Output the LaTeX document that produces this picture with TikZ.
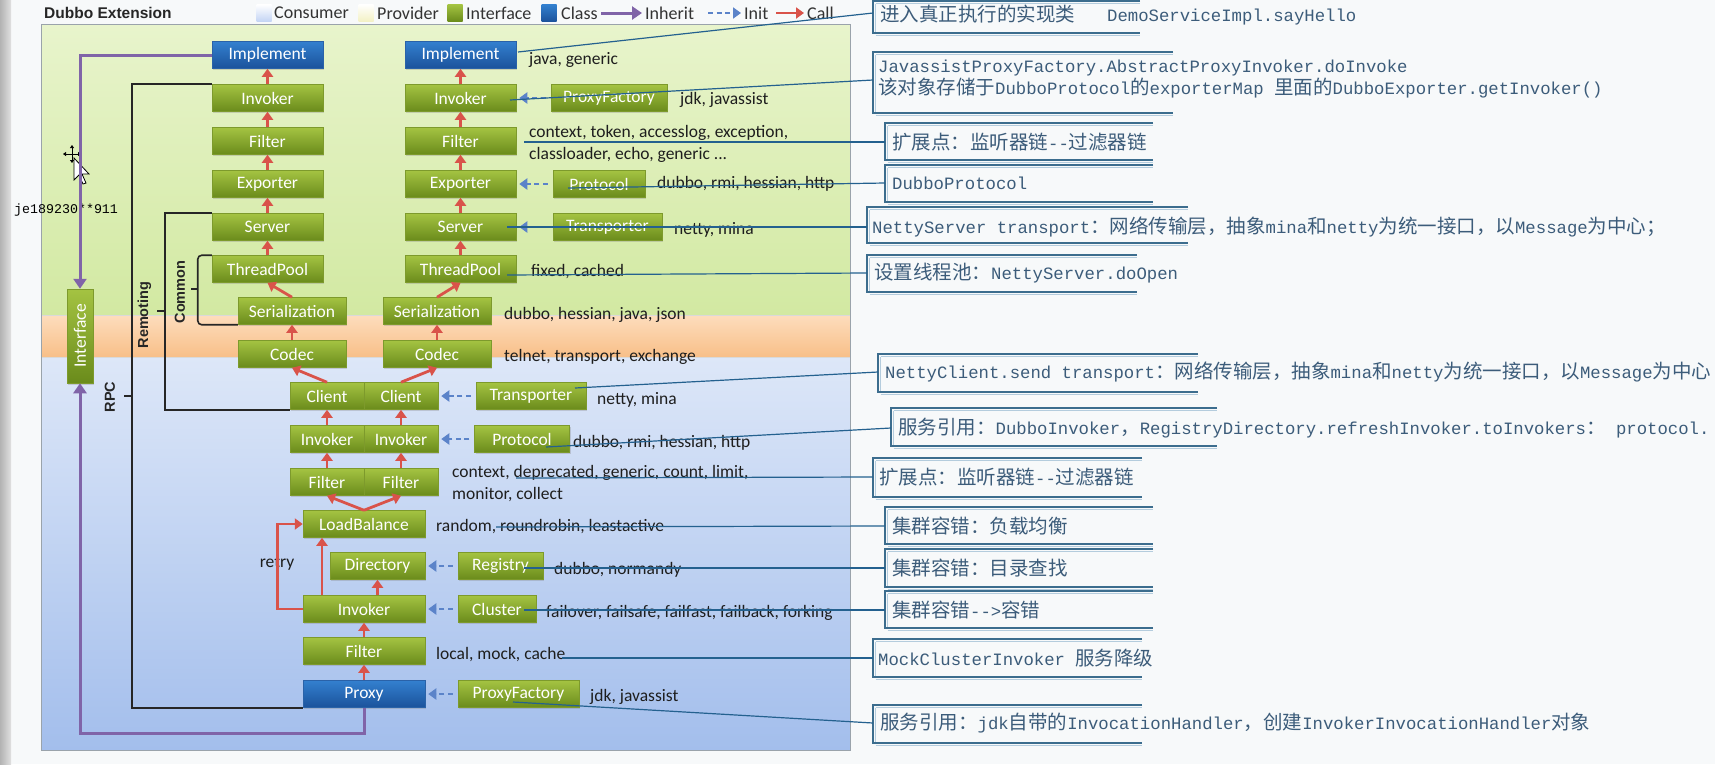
\documentclass[tikz,border=0pt]{standalone}
\usepackage{fontspec}
\setmainfont{Carlito}
\newfontfamily\dbMono{Liberation Mono}
\newfontfamily\dbCJK{Noto Sans CJK SC}[Scale=1.127]
\newfontfamily\dbHead{Liberation Sans}
\usetikzlibrary{arrows.meta,shadows,calc}
\definecolor{bgcol}{HTML}{F7F9FA}
\definecolor{provTop}{HTML}{E8F4CC}
\definecolor{provBot}{HTML}{D2E9A2}
\definecolor{orTop}{HTML}{FDDDBD}
\definecolor{orBot}{HTML}{F8BF88}
\definecolor{conTop}{HTML}{DDE7F8}
\definecolor{conBot}{HTML}{A3BEEC}
\definecolor{panelEdge}{HTML}{9AA3AB}
\definecolor{ifTop}{HTML}{A4C342}
\definecolor{ifBot}{HTML}{6A8B1B}
\definecolor{ifEdge}{HTML}{7D9A2C}
\definecolor{clTop}{HTML}{3380CF}
\definecolor{clBot}{HTML}{1B529B}
\definecolor{clEdge}{HTML}{2A62A8}
\definecolor{callRed}{HTML}{D9534A}
\definecolor{initBlue}{HTML}{5B83C9}
\definecolor{inhPurple}{HTML}{8064A8}
\definecolor{annLine}{HTML}{24618F}
\definecolor{annEdge}{HTML}{3C6D8E}
\definecolor{annShade}{HTML}{B4CCDD}
\definecolor{annText}{HTML}{3C5C7A}
\definecolor{labelText}{HTML}{1E1E1E}
\definecolor{swConsCol}{HTML}{C3D4F4}
\definecolor{swProvCol}{HTML}{F3F1C4}
\newcommand\zh[1]{{\dbCJK #1}}
\newcommand\dbBoxFont{\fontsize{17.5}{20}\selectfont}
\newcommand\dbExtFont{\fontsize{17.5}{20}\selectfont}
\newcommand\dbLegFont{\fontsize{18}{20}\selectfont}
\newcommand\dbTitleFont{\dbHead\bfseries\fontsize{15.5}{17}\selectfont}
\newcommand\dbLblFont{\dbHead\bfseries\fontsize{14.5}{16}\selectfont}
\newcommand\dbAnnFont{\dbMono\fontsize{17.3}{18.5}\selectfont}
\newcommand\dbWmFont{\dbMono\fontsize{13.3}{15}\selectfont}
\begin{document}
\begin{tikzpicture}[x=1pt,y=-1pt,
 ibox/.style={rectangle, top color=ifTop, bottom color=ifBot, draw=ifEdge, line width=0.5pt, text=white, font=\dbBoxFont, minimum height=27, inner sep=0pt, drop shadow={shadow xshift=1.2pt,shadow yshift=-1.8pt,opacity=0.3}},
 cbox/.style={ibox, top color=clTop, bottom color=clBot, draw=clEdge},
 call/.style={draw=callRed, line width=2.8pt, -{Triangle[length=8pt,width=11pt]}},
 init/.style={draw=initBlue, line width=2.6pt, dash pattern=on 5pt off 3.5pt, -{Triangle[length=8pt,width=11pt]}, shorten <=5pt, shorten >=3pt},
 inherit/.style={draw=inhPurple, line width=3pt, -{Triangle[length=10pt,width=13pt]}},
 bracket/.style={draw=black!85, line width=1.6pt},
 ext/.style={font=\dbExtFont, text=labelText, anchor=west, inner sep=0pt},
 lbl/.style={font=\dbLblFont, text=black!85, rotate=90, inner sep=0pt},
 legtext/.style={font=\dbLegFont, text=black!80, anchor=west, inner sep=0pt},
 swatch/.style={rectangle, minimum width=15, minimum height=17, inner sep=0pt},
 annline/.style={draw=annLine, line width=1.2pt},
 annedge/.style={draw=annEdge, line width=1.7pt},
 annshade/.style={draw=annShade, line width=1.4pt},
 anntext/.style={font=\dbAnnFont, text=annText, anchor=west, inner sep=0pt, align=left}
]
\useasboundingbox (0,0) rectangle (1715,764);
\fill[bgcol] (0,0) rectangle (1715,764);
\shade[left color=black!30, right color=black!12] (0,0) rectangle (11,764);

% panels
\shade[top color=provTop,bottom color=provBot] (41,24) rectangle (850,315);
\shade[top color=orTop,bottom color=orBot] (41,315) rectangle (850,357);
\shade[top color=conTop,bottom color=conBot] (41,357) rectangle (850,750);
\draw[white!85!black, line width=1pt] (41,315) -- (850,315) (41,357) -- (850,357);
\draw[panelEdge, line width=1pt] (41,24) rectangle (850,750);

% legend
\node[anchor=west, font=\dbTitleFont, text=black!85, inner sep=0pt] (title) at (44,13) {Dubbo Extension};
\node[swatch, top color=white, bottom color=swConsCol] (swCons) at (264,13) {};
\node[legtext] (lgCons) at (274,13) {Consumer};
\node[swatch, top color=white, bottom color=swProvCol] (swProv) at (366,13) {};
\node[legtext] (lgProv) at (377,13) {Provider};
\node[swatch, top color=ifTop, bottom color=ifBot] (swIf) at (455,13) {};
\node[legtext] (lgIf) at (466,13) {Interface};
\node[swatch, top color=clTop, bottom color=clBot] (swCl) at (549,13) {};
\node[legtext] (lgCl) at (561,13) {Class};
\coordinate (lgInhA) at (601,13); \coordinate (lgInhB) at (642,13);
\draw[inherit] (lgInhA) -- (lgInhB);
\node[legtext] (lgInh) at (645,13) {Inherit};
\coordinate (lgInitA) at (708,13); \coordinate (lgInitB) at (741,13);
\draw[init, shorten <=0pt, shorten >=0pt] (lgInitA) -- (lgInitB);
\node[legtext] (lgInit) at (744,13) {Init};
\coordinate (lgCallA) at (776,13); \coordinate (lgCallB) at (804,13);
\draw[call] (lgCallA) -- (lgCallB);
\node[legtext] (lgCall) at (807,13) {Call};

% watermark and cursor
\node[anchor=west, font=\dbWmFont, inner sep=0pt] (wm) at (14,210) {je189230**911};
\draw[black, line width=0.9pt, {Triangle[length=3pt,width=4pt]}-{Triangle[length=3pt,width=4pt]}] (63,154) -- (81,154);
\draw[black, line width=0.9pt, {Triangle[length=3pt,width=4pt]}-{Triangle[length=3pt,width=4pt]}] (72,145) -- (72,163);
\draw[black, fill=white, line width=0.8pt] (74,158) -- (74,180) -- (79,175) -- (83,184) -- (86,183) -- (82,174) -- (89,174) -- cycle;

% nodes: provider
\node[cbox, minimum width=111] (pImpL) at (267.5,55) {Implement};
\node[ibox, minimum width=111] (pInvL) at (267.5,98) {Invoker};
\node[ibox, minimum width=111] (pFilL) at (267.5,141) {Filter};
\node[ibox, minimum width=111] (pExpL) at (267.5,184) {Exporter};
\node[ibox, minimum width=111] (pSrvL) at (267.5,227) {Server};
\node[ibox, minimum width=111] (pTPL) at (267.5,269) {ThreadPool};
\node[ibox, minimum width=108] (pSerL) at (292,311) {Serialization};
\node[ibox, minimum width=108] (pCodL) at (292,354) {Codec};
\node[cbox, minimum width=111] (pImpR) at (460.5,55) {Implement};
\node[ibox, minimum width=111] (pInvR) at (460.5,98) {Invoker};
\node[ibox, minimum width=111] (pFilR) at (460.5,141) {Filter};
\node[ibox, minimum width=111] (pExpR) at (460.5,184) {Exporter};
\node[ibox, minimum width=111] (pSrvR) at (460.5,227) {Server};
\node[ibox, minimum width=111] (pTPR) at (460.5,269) {ThreadPool};
\node[ibox, minimum width=108] (pSerR) at (437,311) {Serialization};
\node[ibox, minimum width=108] (pCodR) at (437,354) {Codec};
\node[ibox, minimum width=116] (pPF) at (609,98) {ProxyFactory};
\node[ibox, minimum width=92] (pProt) at (599,184) {Protocol};
\node[ibox, minimum width=109] (pTrans) at (607.5,227) {Transporter};

% nodes: consumer
\node[ibox, minimum width=74] (cCliL) at (327,396) {Client};
\node[ibox, minimum width=74] (cCliR) at (401,396) {Client};
\node[ibox, minimum width=74] (cInvL) at (327,439) {Invoker};
\node[ibox, minimum width=74] (cInvR) at (401,439) {Invoker};
\node[ibox, minimum width=74] (cFilL) at (327,482) {Filter};
\node[ibox, minimum width=74] (cFilR) at (401,482) {Filter};
\node[ibox, minimum width=122] (cLB) at (364,524) {LoadBalance};
\node[ibox, minimum width=95] (cDir) at (377.5,566) {Directory};
\node[ibox, minimum width=122] (cInv) at (364,609) {Invoker};
\node[ibox, minimum width=122] (cFil) at (364,651) {Filter};
\node[cbox, minimum width=122] (cProxy) at (364,694) {Proxy};
\node[ibox, minimum width=110] (cTrans) at (531,396) {Transporter};
\node[ibox, minimum width=95] (cProt) at (522,439) {Protocol};
\node[ibox, minimum width=85] (cReg) at (500.5,566) {Registry};
\node[ibox, minimum width=78] (cClu) at (497,609) {Cluster};
\node[ibox, minimum width=121] (cPF) at (518.5,694) {ProxyFactory};
\node[ibox, minimum width=26, minimum height=94] (iface) at (80,336) {};
\node[rotate=90, text=white, font=\dbBoxFont, inner sep=0pt] (ifaceTxt) at (iface.center) {Interface};

% brackets
\draw[bracket] (pInvL.north west) -- ++(-80,0) |- (cProxy.south west);
\coordinate (rpcA) at (132,396); \coordinate (rpcB) at (124,396);
\draw[bracket] (rpcA) -- (rpcB);
\node[lbl] (lRPC) at (110,397) {RPC};
\draw[bracket] (pSrvL.north west) -- ++(-47,0) |- (cCliL.south west);
\coordinate (remA) at (165,311); \coordinate (remB) at (157,311);
\draw[bracket] (remA) -- (remB);
\node[lbl] (lRem) at (144.5,315) {Remoting};
\draw[bracket, rounded corners=4pt] (pTPL.north west) -- ++(-14,0) |- (pSerL.south west);
\coordinate (comA) at (198,289); \coordinate (comB) at (191,289);
\draw[bracket] (comA) -- (comB);
\node[lbl] (lCom) at (180,292) {Common};

% inherit
\draw[inherit] (pImpL.west) -| (iface.north);
\draw[inherit] (cProxy.south) -- ++(0,26) -| (iface.south);

% calls
\foreach \s in {L,R}{
 \draw[call] (pInv\s.north) -- (pImp\s.south);
 \draw[call] (pFil\s.north) -- (pInv\s.south);
 \draw[call] (pExp\s.north) -- (pFil\s.south);
 \draw[call] (pSrv\s.north) -- (pExp\s.south);
 \draw[call] (pTP\s.north) -- (pSrv\s.south);
 \draw[call] (pSer\s.north) -- (pTP\s.south);
 \draw[call] (pCod\s.north) -- (pSer\s.south);
 \draw[call] (cCli\s.north) -- (pCod\s.south);
 \draw[call] (cInv\s.north) -- (cCli\s.south);
 \draw[call] (cFil\s.north) -- (cInv\s.south);
 \draw[call] (cLB.north) -- (cFil\s.south);
}
\node[font=\dbExtFont, text=labelText, inner sep=0pt] (retry) at (277,563) {retry};
\draw[call] ($(cInv.north)+(-42,0)$) -- ($(cLB.south)+(-42,0)$);
\draw[call] (cInv.north -| cDir.south) -- (cDir.south);
\draw[call] (cInv.west) -- ($(cInv.west)+(-25,0)$) |- (cLB.west);
\draw[call] (cFil.north) -- (cInv.south);
\draw[call] (cProxy.north) -- (cFil.south);

% init
\draw[init] (pPF.west) -- (pInvR.east);
\draw[init] (pProt.west) -- (pExpR.east);
\draw[init] (pTrans.west) -- (pSrvR.east);
\draw[init] (cTrans.west) -- (cCliR.east);
\draw[init] (cProt.west) -- (cInvR.east);
\draw[init] (cReg.west) -- (cDir.east);
\draw[init] (cClu.west) -- (cInv.east);
\draw[init] (cPF.west) -- (cProxy.east);

% extension labels
\node[ext] (lb1) at (529,60) {java, generic};
\node[ext] (lb2) at (680,100) {jdk, javassist};
\node[ext] (lb3) at (529,133) {context, token, accesslog, exception,};
\node[ext] (lb4) at (529,155) {classloader, echo, generic ...};
\node[ext] (lb5) at (657,184) {dubbo, rmi, hessian, http};
\node[ext] (lb6) at (674,230) {netty, mina};
\node[ext] (lb7) at (531,272) {fixed, cached};
\node[ext] (lb8) at (504,315) {dubbo, hessian, java, json};
\node[ext] (lb9) at (504,357) {telnet, transport, exchange};
\node[ext] (lb10) at (597,400) {netty, mina};
\node[ext] (lb11) at (573,443) {dubbo, rmi, hessian, http};
\node[ext] (lb12) at (452,473) {context, deprecated, generic, count, limit,};
\node[ext] (lb13) at (452,495) {monitor, collect};
\node[ext] (lb14) at (436,527) {random, roundrobin, leastactive};
\node[ext] (lb15) at (554,570) {dubbo, normandy};
\node[ext] (lb16) at (546,613) {failover, failsafe, failfast, failback, forking};
\node[ext] (lb17) at (436,655) {local, mock, cache};
\node[ext] (lb18) at (590,697) {jdk, javassist};

% annotation boxes
\foreach \L/\T/\B/\R in {873/1/33/1140, 873/52/113/1173, 885/123/160/1153, 885/165/202/1153, 867/207/243/1188, 867/255/292/1137, 878/354/392/1198, 891/408/446/1217, 873/458/497/1142, 885/507/544/1153, 885/549/587/1153, 885/591/628/1153, 873/639/677/1142, 873/705/743/1142}{
 \draw[annshade] (\L+2.5,\T+2.5) -- (\R,\T+2.5);
 \draw[annshade] (\L+2.5,\B+2.5) -- (\R,\B+2.5);
 \draw[annshade] (\L+2.5,\T+2.5) -- (\L+2.5,\B);
 \draw[annedge] (\R,\T) -- (\L,\T) -- (\L,\B) -- (\R,\B);
}

% annotation connectors
\coordinate (s1) at (518,52);  \coordinate (k1) at (873,13);
\coordinate (s2) at (510,100); \coordinate (k2) at (873,80);
\coordinate (s3) at (524,142); \coordinate (k3) at (885,142);
\coordinate (s4) at (568,188); \coordinate (k4) at (885,183);
\coordinate (s5) at (507,227); \coordinate (k5) at (867,227);
\coordinate (s6) at (507,275); \coordinate (k6) at (867,273);
\coordinate (s7) at (575,388); \coordinate (k7) at (878,372);
\coordinate (s8) at (546,447); \coordinate (k8) at (891,428);
\coordinate (s9) at (516,478); \coordinate (k9) at (873,477);
\coordinate (s10) at (496,527); \coordinate (k10) at (885,526);
\coordinate (s11) at (524,568); \coordinate (k11) at (885,568);
\coordinate (s12) at (524,610); \coordinate (k12) at (885,610);
\coordinate (s13) at (562,658); \coordinate (k13) at (873,658);
\coordinate (s14) at (513,702); \coordinate (k14) at (873,723);
\foreach \i in {1,...,14}{ \draw[annline] (s\i) -- (k\i); }

% annotation texts
\node[anntext] (t1) at (880,15) {\zh{进入真正执行的实现类}\hspace{32pt}DemoServiceImpl.sayHello};
\node[anntext] (t2) at (878,79) {JavassistProxyFactory.AbstractProxyInvoker.doInvoke\\\zh{该对象存储于}DubboProtocol\zh{的}exporterMap \zh{里面的}DubboExporter.getInvoker()};
\node[anntext] (t3) at (892,142) {\zh{扩展点：监听器链}-{}-\zh{过滤器链}};
\node[anntext] (t4) at (892,183) {DubboProtocol};
\node[anntext] (t5) at (872,227) {NettyServer transport\zh{：网络传输层，抽象}mina\zh{和}netty\zh{为统一接口，以}Message\zh{为中心；}};
\node[anntext] (t6) at (874,273) {\zh{设置线程池：}NettyServer.doOpen};
\node[anntext] (t7) at (885,372) {NettyClient.send transport\zh{：网络传输层，抽象}mina\zh{和}netty\zh{为统一接口，以}Message\zh{为中心}};
\node[anntext] (t8) at (898,428) {\zh{服务引用：}DubboInvoker\zh{，}RegistryDirectory.refreshInvoker.toInvokers\zh{：} protocol.};
\node[anntext] (t9) at (879,477) {\zh{扩展点：监听器链}-{}-\zh{过滤器链}};
\node[anntext] (t10) at (892,526) {\zh{集群容错：负载均衡}};
\node[anntext] (t11) at (892,568) {\zh{集群容错：目录查找}};
\node[anntext] (t12) at (892,610) {\zh{集群容错}-{}->\zh{容错}};
\node[anntext] (t13) at (878,658) {MockClusterInvoker \zh{服务降级}};
\node[anntext] (t14) at (880,723) {\zh{服务引用：}jdk\zh{自带的}InvocationHandler\zh{，创建}InvokerInvocationHandler\zh{对象}};
\end{tikzpicture}
\end{document}
